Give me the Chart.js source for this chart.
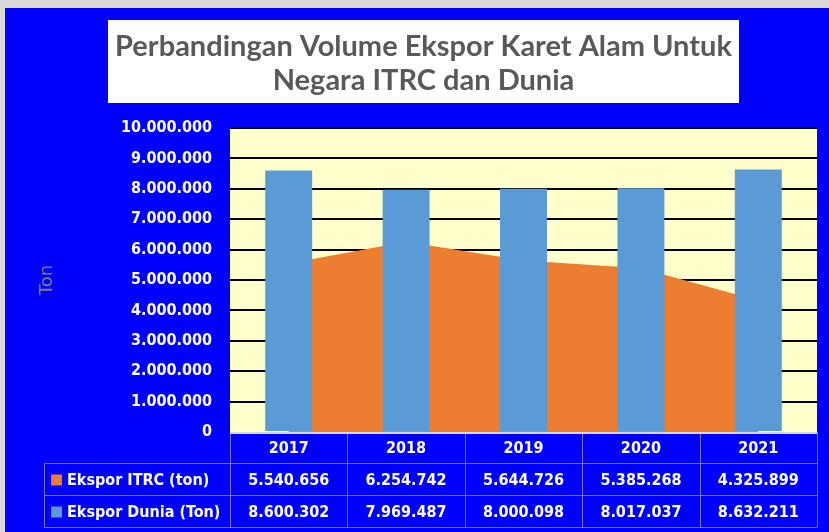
<!DOCTYPE html>
<html>
<head>
<meta charset="utf-8">
<script src="https://cdn.jsdelivr.net/npm/chart.js@4/dist/chart.umd.min.js"></script>
<style>
  html, body { margin: 0; padding: 0; background: #D9D9D9; width: 829px; height: 532px; overflow: hidden; }
  #wrap { position: absolute; left: 5px; top: 8px; width: 824px; height: 524px; }
</style>
</head>
<body>
<div id="wrap"><canvas id="c" width="824" height="524" style="width:824px;height:524px"></canvas></div>
<script>
const titleLines = ['Perbandingan Volume Ekspor Karet Alam Untuk', 'Negara ITRC dan Dunia'];
const categories = ['2017', '2018', '2019', '2020', '2021'];
const itrcLabel = 'Ekspor ITRC (ton)';
const duniaLabel = 'Ekspor Dunia (Ton)';
const itrcValues = [5540656, 6254742, 5644726, 5385268, 4325899];
const duniaValues = [8600302, 7969487, 8000098, 8017037, 8632211];
const yTitle = 'Ton';

const ORANGE = '#ED7D31';
const BLUE = '#5B9BD5';
const BG = '#0000FF';
const FONT = "'DejaVu Sans Condensed', 'DejaVu Sans', Verdana, sans-serif";

function fmt(v) {
  return String(Math.round(v)).replace(/\B(?=(\d{3})+(?!\d))/g, '.');
}

const bgPlugin = {
  id: 'bg',
  beforeDraw(chart) {
    const ctx = chart.ctx, a = chart.chartArea;
    ctx.save();
    ctx.fillStyle = BG;
    ctx.fillRect(0, 0, chart.width, chart.height);
    ctx.fillStyle = '#FFFFCC';
    ctx.fillRect(a.left, a.top, a.right - a.left, a.bottom - a.top);
    // title box
    ctx.fillStyle = '#FFFFFF';
    ctx.fillRect(103, 12, 631, 83);
    ctx.fillStyle = '#595959';
    ctx.font = "bold 29px Lato, 'Open Sans', sans-serif";
    ctx.textAlign = 'center';
    ctx.textBaseline = 'middle';
    ctx.fillText(titleLines[0], 418.5, 39);
    ctx.fillText(titleLines[1], 418.5, 73);
    ctx.restore();
  }
};

const tablePlugin = {
  id: 'table',
  afterDraw(chart) {
    const ctx = chart.ctx, a = chart.chartArea;
    const n = categories.length;
    const w = (a.right - a.left) / n;
    const y0 = a.bottom, y1 = 455.5, y2 = 487.5, y3 = 519.5;
    const tl = 39.5;
    ctx.save();
    ctx.lineWidth = 1;
    ctx.strokeStyle = '#7878A8';
    ctx.beginPath();
    [y1, y2, y3].forEach(y => { ctx.moveTo(tl, y); ctx.lineTo(a.right, y); });
    ctx.moveTo(tl, y1); ctx.lineTo(tl, y3);
    for (let i = 0; i <= n; i++) {
      const x = Math.round(a.left + i * w) + 0.5;
      ctx.moveTo(x, y0); ctx.lineTo(x, y3);
    }
    ctx.stroke();
    ctx.strokeStyle = '#D8D8F0';
    ctx.lineWidth = 2;
    ctx.beginPath();
    ctx.moveTo(a.left, y0 + 1); ctx.lineTo(a.right, y0 + 1);
    ctx.stroke();

    ctx.fillStyle = '#FFFFFF';
    ctx.font = 'bold 16px ' + FONT;
    ctx.textAlign = 'center';
    ctx.textBaseline = 'middle';
    const xs = chart.scales.x;
    for (let i = 0; i < n; i++) {
      const cx = xs.getPixelForValue(i);
      ctx.fillText(categories[i], cx, (y0 + y1) / 2 + 1);
      ctx.fillText(fmt(itrcValues[i]), cx, (y1 + y2) / 2 + 1);
      ctx.fillText(fmt(duniaValues[i]), cx, (y2 + y3) / 2 + 1);
    }
    ctx.textAlign = 'left';
    ctx.fillStyle = ORANGE;
    ctx.fillRect(46, (y1 + y2) / 2 - 5, 11, 11);
    ctx.fillStyle = BLUE;
    ctx.fillRect(46, (y2 + y3) / 2 - 5, 11, 11);
    ctx.fillStyle = '#FFFFFF';
    ctx.fillText(itrcLabel, 62, (y1 + y2) / 2 + 1);
    ctx.fillText(duniaLabel, 62, (y2 + y3) / 2 + 1);
    ctx.restore();
  }
};

new Chart(document.getElementById('c'), {
  data: {
    labels: categories,
    datasets: [
      {
        type: 'bar',
        label: duniaLabel,
        data: duniaValues,
        backgroundColor: BLUE,
        borderWidth: 0,
        barPercentage: 0.4,
        categoryPercentage: 1.0,
        order: 0
      },
      {
        type: 'line',
        label: itrcLabel,
        data: itrcValues,
        backgroundColor: ORANGE,
        borderColor: ORANGE,
        borderWidth: 0,
        pointRadius: 0,
        tension: 0,
        fill: 'origin',
        order: 1
      }
    ]
  },
  options: {
    responsive: false,
    animation: false,
    events: [],
    layout: { padding: { top: 120, right: 12, bottom: 100, left: 0 } },
    plugins: {
      legend: { display: false },
      tooltip: { enabled: false },
      title: { display: false }
    },
    scales: {
      x: {
        display: false,
        offset: true
      },
      y: {
        min: 0,
        max: 10000000,
        afterFit(scale) { scale.width = 225; },
        border: { display: false },
        grid: {
          drawTicks: false,
          lineWidth: 2,
          color: (c) => (c.tick && c.tick.value === 0) ? 'rgba(0,0,0,0)' : '#000000'
        },
        ticks: {
          stepSize: 1000000,
          padding: 18,
          color: '#FFFFFF',
          font: { family: FONT, weight: 'bold', size: 16 },
          callback: (v) => fmt(v)
        },
        title: {
          display: true,
          text: yTitle,
          color: '#7F7F7F',
          font: { family: "'DejaVu Sans', Verdana, sans-serif", size: 18 },
          padding: { top: 32, bottom: 0 }
        }
      }
    }
  },
  plugins: [bgPlugin, tablePlugin]
});
</script>
</body>
</html>
